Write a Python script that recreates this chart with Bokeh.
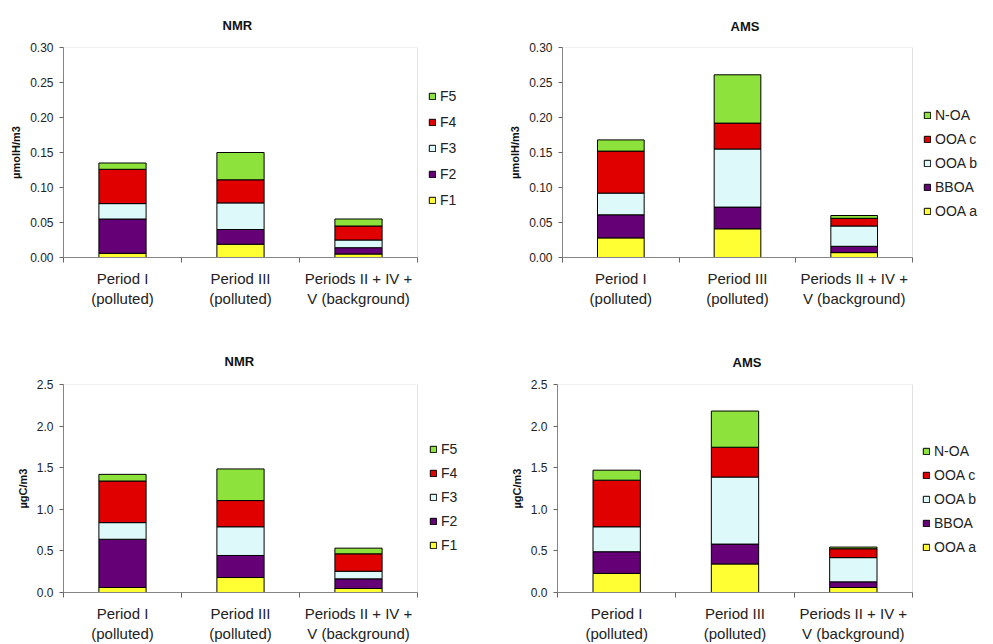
from bokeh.plotting import figure
from bokeh.layouts import column, row
from bokeh.models import (ColumnDataSource, Range1d, FixedTicker, Legend, LegendItem,
                          NumeralTickFormatter, BoxAnnotation)
from bokeh.embed import file_html
from bokeh.resources import INLINE

# ---------------- data ----------------
categories = ["Period I\n(polluted)", "Period III\n(polluted)", "Periods II + IV +\nV (background)"]

nmr_factors = ["F1", "F2", "F3", "F4", "F5"]
ams_factors = ["OOA a", "BBOA", "OOA b", "OOA c", "N-OA"]

# NMR, umolH/m3 (per category: Period I, Period III, background)
nmr_h_F1 = [0.006, 0.019, 0.005]
nmr_h_F2 = [0.049, 0.021, 0.009]
nmr_h_F3 = [0.022, 0.038, 0.011]
nmr_h_F4 = [0.049, 0.033, 0.020]
nmr_h_F5 = [0.009, 0.039, 0.010]

# AMS, umolH/m3
ams_h_OOAa = [0.028, 0.041, 0.007]
ams_h_BBOA = [0.033, 0.031, 0.009]
ams_h_OOAb = [0.031, 0.083, 0.029]
ams_h_OOAc = [0.060, 0.037, 0.011]
ams_h_NOA = [0.016, 0.069, 0.004]

# NMR, ugC/m3
nmr_c_F1 = [0.06, 0.18, 0.048]
nmr_c_F2 = [0.58, 0.265, 0.116]
nmr_c_F3 = [0.20, 0.345, 0.092]
nmr_c_F4 = [0.50, 0.315, 0.209]
nmr_c_F5 = [0.08, 0.38, 0.068]

# AMS, ugC/m3
ams_c_OOAa = [0.23, 0.343, 0.06]
ams_c_BBOA = [0.26, 0.239, 0.068]
ams_c_OOAb = [0.30, 0.806, 0.291]
ams_c_OOAc = [0.56, 0.358, 0.107]
ams_c_NOA = [0.12, 0.435, 0.02]

colors = ["#FFFF33", "#660077", "#DDF9F9", "#E00000", "#8EE23C"]

FONT = "Liberation Sans"


def panel(title, ylabel, names, series, ymax, step, fmt, width, height,
          bl, bt, bb, plot_w, leg_x, leg_y, leg_spacing, title_standoff, title_offset):
    n = len(categories)
    br = 2
    frame_w = width - bl - br
    x_end = n * frame_w / plot_w          # extra room on the right holds the legend
    xs = [i + 0.5 for i in range(n)]
    data = {"x": xs}
    for nm, s in zip(names, series):
        data[nm] = s
    src = ColumnDataSource(data)

    p = figure(width=width, height=height, output_backend="svg", toolbar_location=None,
               x_range=Range1d(0, x_end), y_range=Range1d(0, ymax),
               min_border_left=bl, min_border_right=br, min_border_top=bt,
               min_border_bottom=bb)
    rs = p.vbar_stack(names, x="x", width=0.4, source=src, color=colors,
                      line_color="black", line_width=1)

    p.grid.visible = False
    p.outline_line_color = None
    p.background_fill_color = "white"
    p.border_fill_color = "white"
    p.add_layout(BoxAnnotation(left=0, right=n, bottom=0, top=ymax,
                               fill_color=None, fill_alpha=0,
                               line_color="#a0a0a0", line_width=1))

    p.title.text = title
    p.title.text_font = FONT
    p.title.text_font_size = "13px"
    p.title.text_font_style = "bold"
    p.title.text_color = "#111111"
    p.title.align = "left"
    p.title.standoff = title_standoff
    p.title.offset = title_offset

    # x axis: labels centred on bars, ticks on category boundaries
    xa = p.xaxis[0]
    xa.bounds = (0, n)
    xa.ticker = FixedTicker(ticks=xs, minor_ticks=list(range(n + 1)))
    xa.major_label_overrides = {x: c for x, c in zip(xs, categories)}
    xa.major_tick_out = 0
    xa.major_tick_in = 0
    xa.minor_tick_out = 5
    xa.minor_tick_in = 0
    xa.minor_tick_line_color = "#666666"
    xa.axis_line_color = "#808080"
    xa.major_label_text_font = FONT
    xa.major_label_text_font_size = "15px"
    xa.major_label_text_color = "#222222"
    xa.major_label_standoff = 7

    ya = p.yaxis[0]
    ticks = []
    k = 0
    while k * step <= ymax + 1e-9:
        ticks.append(round(k * step, 4))
        k += 1
    ya.ticker = FixedTicker(ticks=ticks)
    ya.formatter = NumeralTickFormatter(format=fmt)
    ya.major_tick_out = 4
    ya.major_tick_in = 0
    ya.minor_tick_out = 0
    ya.minor_tick_in = 0
    ya.major_tick_line_color = "#666666"
    ya.axis_line_color = "#808080"
    ya.major_label_text_font = FONT
    ya.major_label_text_font_size = "12px"
    ya.major_label_text_color = "#222222"
    ya.major_label_standoff = 6
    ya.axis_label = ylabel
    ya.axis_label_text_font = FONT
    ya.axis_label_text_font_size = "11px"
    ya.axis_label_text_font_style = "bold"
    ya.axis_label_text_color = "#111111"
    ya.axis_label_standoff = 5

    items = [LegendItem(label=nm, renderers=[r]) for nm, r in zip(names, rs)][::-1]
    leg = Legend(items=items, location=(leg_x, leg_y), orientation="vertical",
                 label_text_font=FONT, label_text_font_size="14px",
                 label_text_color="#222222",
                 glyph_width=8, glyph_height=8, label_standoff=4,
                 label_height=16, spacing=leg_spacing, padding=6, margin=0,
                 border_line_color=None, background_fill_alpha=0)
    p.add_layout(leg, "center")
    return p


p1 = panel("NMR", "µmolH/m3", nmr_factors,
           [nmr_h_F1, nmr_h_F2, nmr_h_F3, nmr_h_F4, nmr_h_F5],
           0.30, 0.05, "0.00", 488, 322, 63, 47, 65, 354,
           365, 49, 10, 30, 159)
p2 = panel("AMS", "µmolH/m3", ams_factors,
           [ams_h_OOAa, ams_h_BBOA, ams_h_OOAb, ams_h_OOAc, ams_h_NOA],
           0.30, 0.05, "0.00", 505, 322, 74, 45, 63, 350,
           361, 38, 8, 27, 168)
p3 = panel("NMR", "µgC/m3", nmr_factors,
           [nmr_c_F1, nmr_c_F2, nmr_c_F3, nmr_c_F4, nmr_c_F5],
           2.5, 0.5, "0.0", 488, 322, 63, 62, 52, 354,
           366, 39, 8, 31, 161)
p4 = panel("AMS", "µgC/m3", ams_factors,
           [ams_c_OOAa, ams_c_BBOA, ams_c_OOAb, ams_c_OOAc, ams_c_NOA],
           2.5, 0.5, "0.0", 505, 322, 69, 61, 52, 355,
           365, 37, 8, 29, 175)

layout = column(row(p1, p2), row(p3, p4))

with open("out.html", "w") as f:
    f.write(file_html(layout, INLINE))
